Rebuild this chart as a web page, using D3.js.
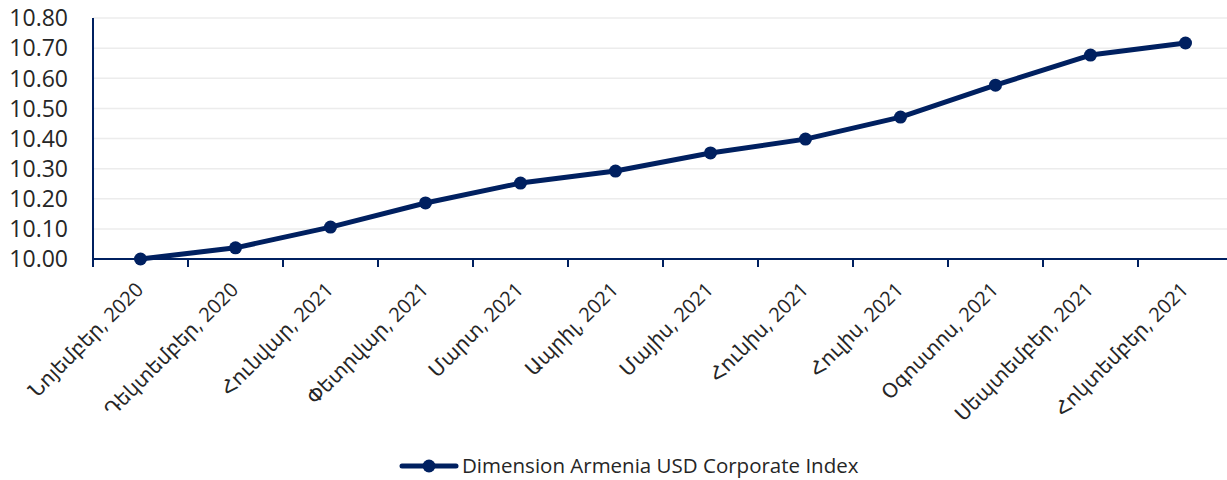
<!DOCTYPE html>
<html>
<head>
<meta charset="utf-8">
<script src="https://cdn.jsdelivr.net/npm/d3@7"></script>
<style>
  body { margin: 0; background: #fff; }
  text { font-family: "Open Sans", "DejaVu Sans", sans-serif; fill: #262626; }
</style>
</head>
<body>
<div id="chart"></div>
<script>
// data
const months = ["Նոյեմբեր, 2020", "Դեկտեմբեր, 2020", "Հունվար, 2021", "Փետրվար, 2021",
    "Մարտ, 2021", "Ապրիլ, 2021", "Մայիս, 2021", "Հունիս, 2021",
    "Հուլիս, 2021", "Օգոստոս, 2021", "Սեպտեմբեր, 2021", "Հոկտեմբեր, 2021"];
const indexValues = [10.00, 10.037, 10.106, 10.186, 10.252, 10.292, 10.352, 10.398, 10.471, 10.577, 10.677, 10.717];
const yTicks = [10.0, 10.1, 10.2, 10.3, 10.4, 10.5, 10.6, 10.7, 10.8];
const seriesName = "Dimension Armenia USD Corporate Index";

const W = 1227, H = 480;
const margin = {top: 18, right: -6, bottom: 221, left: 93};
const width = W - margin.left - margin.right;
const height = H - margin.top - margin.bottom;
const navy = "#002060";

const svg = d3.select("#chart").append("svg")
    .attr("width", W).attr("height", H);
const g = svg.append("g")
    .attr("transform", `translate(${margin.left},${margin.top})`);

const x = d3.scaleBand().domain(months).range([0, width]);
const y = d3.scaleLinear().domain([10.0, 10.8]).range([height, 0]);

// grid
g.selectAll(".grid").data(yTicks.slice(1)).enter()
    .append("line")
    .attr("x1", 0).attr("x2", width)
    .attr("y1", d => y(d)).attr("y2", d => y(d))
    .attr("stroke", "#ececec").attr("stroke-width", 1.5);

// y labels
g.selectAll(".ylab").data(yTicks).enter()
    .append("text")
    .attr("x", -25).attr("y", d => y(d))
    .attr("dy", "0.36em")
    .attr("text-anchor", "end")
    .style("font-size", "23px")
    .text(d => d.toFixed(2));

// y axis line
g.append("line").attr("x1", 0).attr("x2", 0).attr("y1", 0).attr("y2", height)
    .attr("stroke", navy).attr("stroke-width", 2);

// x axis line and ticks
g.append("line").attr("x1", 0).attr("x2", width).attr("y1", height).attr("y2", height)
    .attr("stroke", navy).attr("stroke-width", 2);
const tickPos = months.map(m => x(m)).concat([width]);
g.selectAll(".xtick").data(tickPos).enter()
    .append("line")
    .attr("x1", d => d).attr("x2", d => d)
    .attr("y1", height).attr("y2", height + 8)
    .attr("stroke", navy).attr("stroke-width", 2);

// x labels
g.selectAll(".xlab").data(months).enter()
    .append("text")
    .attr("text-anchor", "end")
    .attr("transform", d => `translate(${x(d) + x.bandwidth() / 2 + 4},${height + 32}) rotate(-45)`)
    .style("font-size", "20px")
    .text(d => d);

// line
const pts = months.map((m, i) => ({m, v: indexValues[i]}));
const line = d3.line().x(d => x(d.m) + x.bandwidth() / 2).y(d => y(d.v));
g.append("path").datum(pts)
    .attr("fill", "none").attr("stroke", navy)
    .attr("stroke-width", 5).attr("stroke-linejoin", "round").attr("stroke-linecap", "round")
    .attr("d", line);
g.selectAll(".dot").data(pts).enter()
    .append("circle")
    .attr("cx", d => x(d.m) + x.bandwidth() / 2)
    .attr("cy", d => y(d.v))
    .attr("r", 6.5)
    .attr("fill", navy);

// legend
const lg = svg.append("g").attr("transform", "translate(402,466)");
lg.append("line").attr("x1", 0).attr("x2", 54).attr("y1", 0).attr("y2", 0)
    .attr("stroke", navy).attr("stroke-width", 5).attr("stroke-linecap", "round");
lg.append("circle").attr("cx", 27).attr("cy", 0).attr("r", 6.5).attr("fill", navy);
lg.append("text").attr("x", 60).attr("y", 0).attr("dy", "0.36em")
    .style("font-size", "20.5px").text(seriesName);
</script>
</body>
</html>
